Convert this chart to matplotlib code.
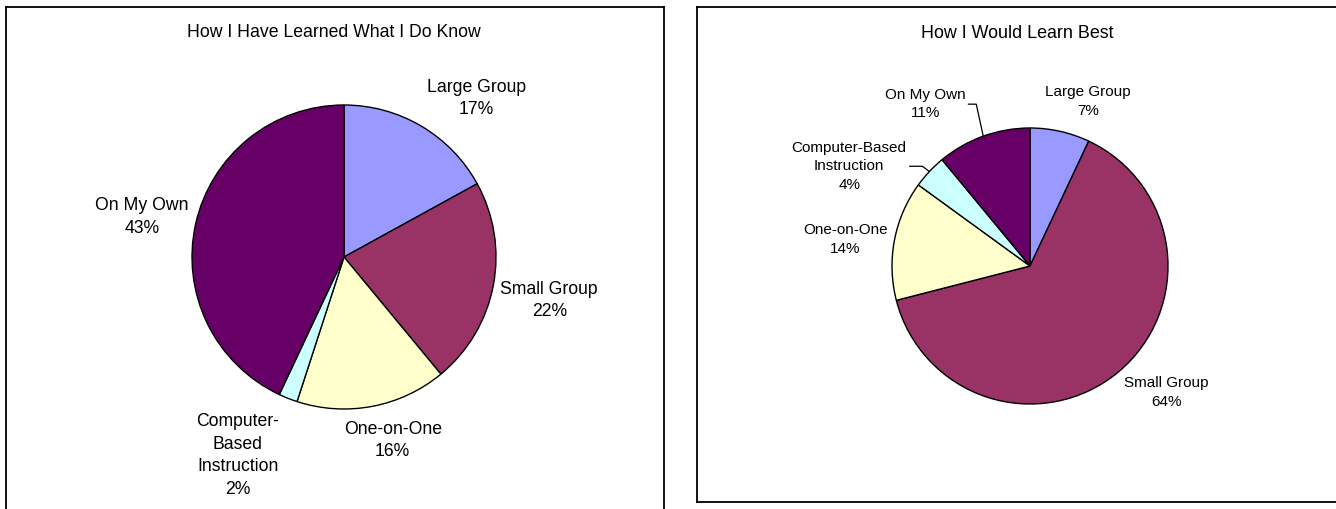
"""Two pie charts: how respondents have learned vs. how they would learn best."""
import numpy as np
import matplotlib
matplotlib.use("Agg")
import matplotlib.pyplot as plt
from matplotlib.lines import Line2D

plt.rcParams["font.family"] = ["Liberation Sans", "DejaVu Sans"]

# data
methods = ["Large Group", "Small Group", "One-on-One",
           "Computer-Based Instruction", "On My Own"]
learned_pct = [17, 22, 16, 2, 43]
best_pct = [7, 64, 14, 4, 11]
learned_names = ["Large Group", "Small Group", "One-on-One",
                 "Computer-\nBased\nInstruction", "On My Own"]
best_names = ["Large Group", "Small Group", "One-on-One",
              "Computer-Based\nInstruction", "On My Own"]
colors = ["#9999FF", "#993366", "#FFFFCC", "#CCFFFF", "#660066"]

W, H = 1336, 510
fig = plt.figure(figsize=(W / 100, H / 100), dpi=100)


def panel(x0, y0, x1, y1):
    # axes over a pixel box (top-left origin); data units are pixels, y up
    ax = fig.add_axes([x0 / W, 1 - y1 / H, (x1 - x0) / W, (y1 - y0) / H])
    return ax, (x0, x1, H - y1, H - y0)


def draw_pie(ax, lims, vals, names, cx, cy, r, title, title_xy, fs, tfs,
             label_off, leaders=()):
    wedges, _ = ax.pie(vals, colors=colors, startangle=90, counterclock=False,
                       center=(cx, H - cy), radius=r, frame=True,
                       wedgeprops=dict(edgecolor="black", linewidth=1.0))
    ax.set_aspect("auto")
    ax.set_xlim(lims[0], lims[1]); ax.set_ylim(lims[2], lims[3])
    ax.set_xticks([]); ax.set_yticks([])
    for s in ax.spines.values():
        s.set_linewidth(1.3); s.set_color("black")
    ax.text(title_xy[0], H - title_xy[1], title, ha="center", va="center",
            fontsize=tfs)
    texts = []
    for name, v, (ox, oy) in zip(names, vals, label_off):
        t = ax.text(cx + ox * r, H - cy + oy * r, f"{name}\n{v}%",
                    ha="center", va="center", multialignment="center",
                    fontsize=fs, linespacing=1.42)
        texts.append(t)
    if leaders:
        fig.canvas.draw()
        inv = ax.transData.inverted()
        for i in leaders:
            w = wedges[i]
            mid = np.deg2rad((w.theta1 + w.theta2) / 2)
            ex, ey = cx + r * np.cos(mid), H - cy + r * np.sin(mid)
            bb = texts[i].get_window_extent()
            (bx, _), = inv.transform([[bb.x1, bb.y0]])
            ty = texts[i].get_position()[1]
            ax.add_line(Line2D([bx + 3, ex - 7, ex], [ty - 1, ty - 1, ey],
                               color="black", lw=0.9))


ax1, lim1 = panel(6, 8, 664, 516)
draw_pie(ax1, lim1, learned_pct, learned_names, 344, 258, 152,
         "How I Have Learned What I Do Know", (334, 33), 12.7, 12.7,
         [(0.87, 1.05), (1.35, -0.28), (0.32, -1.20), (-0.70, -1.30),
          (-1.33, 0.27)])

ax2, lim2 = panel(697, 8, 1342, 503)
draw_pie(ax2, lim2, best_pct, best_names, 1030, 267, 138,
         "How I Would Learn Best", (1017, 33), 11.0, 12.9,
         [(0.42, 1.20), (0.99, -0.91), (-1.34, 0.20), (-1.31, 0.73),
          (-0.76, 1.18)], leaders=(3, 4))

fig.savefig("out.png", dpi=100)
